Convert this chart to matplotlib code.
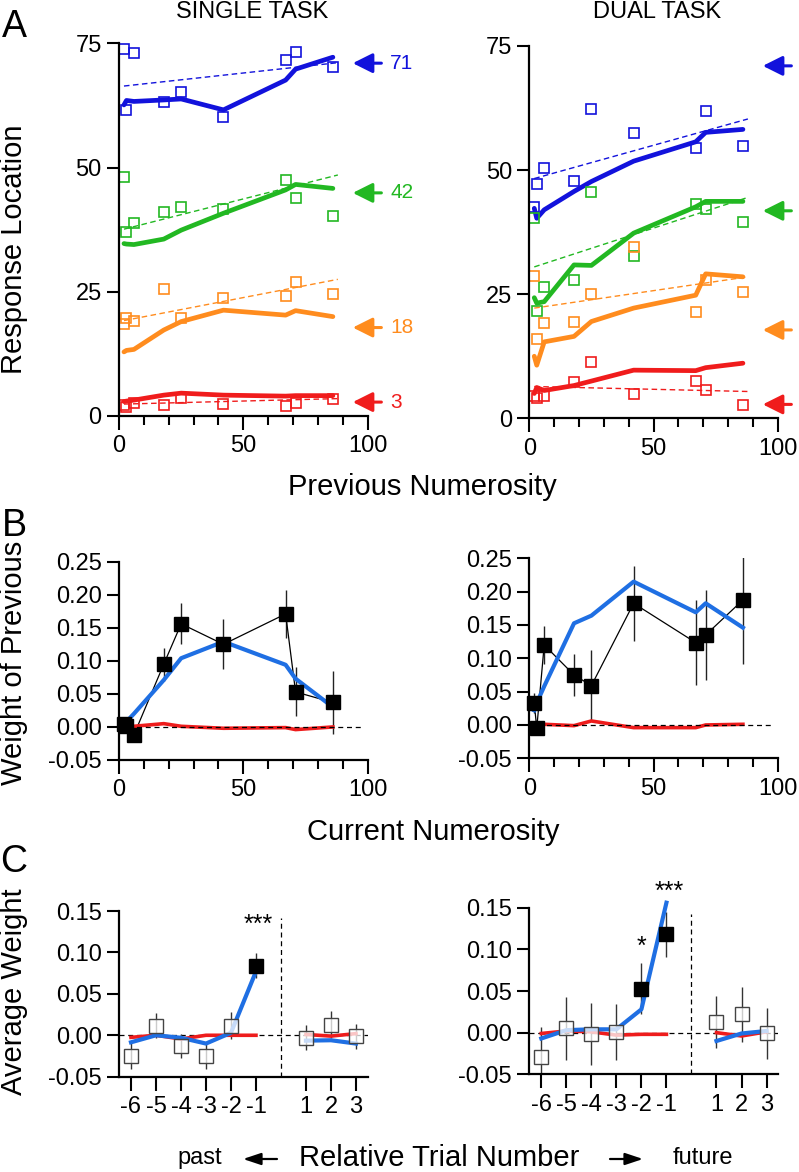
import numpy as np
import matplotlib.pyplot as plt
from matplotlib.ticker import MultipleLocator, FormatStrFormatter

plt.rcParams['font.family'] = ['Liberation Sans', 'DejaVu Sans']
plt.rcParams['axes.unicode_minus'] = False

# ---------------- data ----------------
# A: response location vs previous numerosity
numerosity = [2, 3, 6, 18, 25, 42, 67, 71, 86]
target_labels = ['71', '42', '18', '3']
single_arrow_y = [71, 44.9, 17.8, 2.8]
dual_arrow_y = [71, 41.8, 17.8, 2.8]
fit_x = [2, 88]

single_blue = [73.8, 61.6, 73.0, 63.2, 65.1, 60.2, 71.6, 73.2, 70.3]
single_blue_model = [62.6, 63.5, 63.3, 63.6, 63.8, 61.6, 67.6, 69.8, 72.2]
single_blue_fit = [66.4, 71.1]
single_green = [48.0, 37.0, 38.8, 41.1, 42.0, 41.6, 47.4, 43.8, 40.3]
single_green_model = [34.7, 34.6, 34.5, 35.6, 37.4, 40.8, 45.5, 46.6, 45.8]
single_green_fit = [37.6, 48.5]
single_orange = [18.6, 19.7, 19.2, 25.6, 19.8, 23.8, 24.2, 26.9, 24.5]
single_orange_model = [12.9, 13.2, 13.4, 17.3, 19.0, 21.3, 20.3, 21.2, 20.0]
single_orange_fit = [19.2, 27.5]
single_red = [2.2, 1.9, 2.7, 2.2, 3.7, 2.4, 2.0, 2.7, 3.4]
single_red_model = [2.9, 3.0, 3.2, 4.2, 4.6, 4.2, 4.0, 4.1, 4.1]
single_red_fit = [2.4, 3.5]

dual_blue = [42.6, 47.3, 50.4, 47.8, 62.3, 57.4, 54.5, 61.9, 54.9]
dual_blue_model = [42.3, 40.3, 42.0, 45.7, 47.7, 51.8, 55.7, 57.6, 58.2]
dual_blue_fit = [48.3, 60.3]
dual_green = [40.3, 21.6, 26.4, 27.9, 45.5, 32.7, 43.2, 42.2, 39.5]
dual_green_model = [24.3, 23.2, 23.5, 30.9, 30.8, 37.3, 42.6, 43.7, 43.7]
dual_green_fit = [30.5, 44.5]
dual_orange = [28.7, 16.0, 19.1, 19.3, 25.0, 34.6, 21.4, 27.9, 25.4]
dual_orange_model = [12.5, 10.7, 15.4, 16.5, 19.5, 22.2, 24.8, 29.1, 28.5]
dual_orange_fit = [22.2, 28.5]
dual_red = [4.4, 4.0, 4.4, 7.4, 11.3, 4.9, 7.6, 5.7, 2.7]
dual_red_model = [5.0, 6.2, 5.6, 6.6, 7.5, 9.7, 9.6, 10.2, 11.1]
dual_red_fit = [6.4, 5.4]

# B: weight of previous vs current numerosity
single_w = [0.004, 0.002, -0.012, 0.095, 0.156, 0.125, 0.171, 0.053, 0.037]
single_w_err = [0.008, 0.008, 0.010, 0.025, 0.031, 0.038, 0.036, 0.037, 0.048]
single_w_model = [0.002, 0.008, 0.020, 0.071, 0.104, 0.129, 0.094, 0.073, 0.030]
single_w_ctrl = [0.0, 0.0, 0.001, 0.005, 0.001, -0.002, -0.001, -0.004, 0.0]
dual_w = [0.0325, -0.005, 0.120, 0.075, 0.059, 0.1825, 0.1235, 0.135, 0.1875]
dual_w_err = [0.015, 0.006, 0.0285, 0.032, 0.053, 0.0565, 0.064, 0.0675, 0.0965]
dual_w_model = [0.022, 0.033, 0.058, 0.1525, 0.164, 0.215, 0.169, 0.1825, 0.146]
dual_w_ctrl = [0.0, 0.002, 0.001, -0.001, 0.006, -0.004, -0.004, 0.0, 0.001]

# C: average weight vs relative trial number
lags = ['-6', '-5', '-4', '-3', '-2', '-1', '1', '2', '3']
lag_pos = [0, 1, 2, 3, 4, 5, 7, 8, 9]
single_avg = [-0.025, 0.0116, -0.013, -0.0245, 0.0116, 0.084, -0.003, 0.013, -0.001]
single_avg_err = [0.016, 0.015, 0.015, 0.016, 0.016, 0.015, 0.015, 0.016, 0.015]
single_avg_model = [-0.0085, 0.0, -0.003, -0.010, 0.003, 0.077, -0.0065, -0.006, -0.010]
single_avg_ctrl = [-0.0025, 0.0, -0.0045, 0.0, 0.0, 0.0, 0.001, -0.001, 0.002]
single_stars = ['', '', '', '', '', '***', '', '', '']
dual_avg = [-0.0296, 0.005, -0.002, 0.0004, 0.053, 0.118, 0.0124, 0.022, -0.001]
dual_avg_err = [0.036, 0.038, 0.037, 0.0335, 0.031, 0.027, 0.031, 0.033, 0.031]
dual_avg_model = [-0.007, 0.003, 0.004, 0.004, 0.028, 0.156, -0.010, -0.001, 0.002]
dual_avg_ctrl = [-0.001, 0.002, 0.001, -0.003, -0.002, -0.002, 0.0, -0.004, 0.001]
dual_stars = ['', '', '', '', '*', '***', '', '', '']

cols_a = ['#1212dc', '#22b822', '#ff8c1e', '#f01c1c']
blue_b = '#1f6fe3'
red_b = '#ee1c1c'

W, H = 799, 1172
fig = plt.figure(figsize=(W / 100, H / 100), dpi=100)


def fx(px):
    return px / W


def fy(py):
    return 1 - py / H


def axes_px(x0, x1, ytop, ybot):
    return fig.add_axes([fx(x0), fy(ybot), (x1 - x0) / W, (ybot - ytop) / H])


def style(ax):
    for s in ['top', 'right']:
        ax.spines[s].set_visible(False)
    for s in ['left', 'bottom']:
        ax.spines[s].set_linewidth(1.6)
    ax.tick_params(which='both', direction='out', width=1.5, labelsize=17,
                   colors='black', pad=4)
    ax.tick_params(axis='x', which='major', length=10)
    ax.tick_params(axis='x', which='minor', length=6.5)
    ax.tick_params(axis='y', which='major', length=8.5)


# ---------------- panel A ----------------
def panel_a(ax, squares, models, fits, arrow_y, labels):
    for c, sq, mo, ft in zip(cols_a, squares, models, fits):
        ax.plot(fit_x, ft, color=c, lw=1.0, dashes=(4, 2.5))
        ax.plot(numerosity, mo, color=c, lw=3.4, solid_capstyle='round')
        ax.plot(numerosity, sq, ls='none', marker='s', ms=7, mfc='none',
                mec=c, mew=1.2, clip_on=False)
    for i, (c, y) in enumerate(zip(cols_a, arrow_y)):
        ax.annotate('', xy=(94, y), xytext=(105.5, y), annotation_clip=False,
                    arrowprops=dict(arrowstyle='-|>,head_length=0.6,head_width=0.3',
                                    color=c, lw=2.2, shrinkA=0, shrinkB=0,
                                    mutation_scale=20))
        if labels:
            ax.text(109, y, labels[i], color=c, fontsize=15, ha='left',
                    va='center', clip_on=False)
    ax.set_xlim(0, 100)
    ax.set_ylim(0, 75)
    ax.xaxis.set_major_locator(MultipleLocator(50))
    ax.xaxis.set_minor_locator(MultipleLocator(10))
    ax.yaxis.set_major_locator(MultipleLocator(25))
    style(ax)


ax1 = axes_px(119, 367.7, 43.3, 416)
panel_a(ax1, [single_blue, single_green, single_orange, single_red],
        [single_blue_model, single_green_model, single_orange_model, single_red_model],
        [single_blue_fit, single_green_fit, single_orange_fit, single_red_fit],
        single_arrow_y, target_labels)
ax2 = axes_px(529.3, 777.7, 46, 418.3)
panel_a(ax2, [dual_blue, dual_green, dual_orange, dual_red],
        [dual_blue_model, dual_green_model, dual_orange_model, dual_red_model],
        [dual_blue_fit, dual_green_fit, dual_orange_fit, dual_red_fit],
        dual_arrow_y, None)


# ---------------- panel B ----------------
def panel_b(ax, w, err, model, ctrl):
    ax.plot([0, 97.5], [0, 0], color='black', lw=0.9, dashes=(4, 3), zorder=4)
    ax.plot(numerosity, ctrl, color=red_b, lw=2.6, zorder=3)
    ax.errorbar(numerosity, w, yerr=err, fmt='none', ecolor='#222222',
                elinewidth=1.0, capsize=0, zorder=2)
    ax.plot(numerosity, w, color='black', lw=0.9, zorder=2)
    ax.plot(numerosity, model, color=blue_b, lw=3.0, zorder=3)
    ax.plot(numerosity, w, ls='none', marker='s', ms=9.5, color='black',
            zorder=5, clip_on=False)
    ax.set_xlim(0, 100)
    ax.set_ylim(-0.05, 0.25)
    ax.xaxis.set_major_locator(MultipleLocator(50))
    ax.xaxis.set_minor_locator(MultipleLocator(10))
    ax.yaxis.set_major_locator(MultipleLocator(0.05))
    ax.yaxis.set_major_formatter(FormatStrFormatter('%.2f'))
    style(ax)


ax3 = axes_px(119, 367.7, 561.7, 760)
panel_b(ax3, single_w, single_w_err, single_w_model, single_w_ctrl)
ax4 = axes_px(529.3, 777.7, 558.3, 758.3)
panel_b(ax4, dual_w, dual_w_err, dual_w_model, dual_w_ctrl)


# ---------------- panel C ----------------
def panel_c(ax, avg, err, model, ctrl, stars, star_y):
    ax.plot([-0.5, 9.5], [0, 0], color='black', lw=0.9, dashes=(4, 3), zorder=1)
    ax.plot([6, 6], [-0.05, 0.142], color='black', lw=0.9, dashes=(4, 3), zorder=1)
    past = slice(0, 6)
    fut = slice(6, 9)
    ax.errorbar(lag_pos, avg, yerr=err, fmt='none', ecolor='#333333',
                elinewidth=1.0, capsize=0, zorder=2)
    for seg in (past, fut):
        ax.plot(lag_pos[seg], ctrl[seg], color=red_b, lw=2.6, zorder=3)
        ax.plot(lag_pos[seg], model[seg], color=blue_b, lw=3.0, zorder=3,
                clip_on=False)
    for p, v, s in zip(lag_pos, avg, stars):
        if s:
            ax.plot(p, v, marker='s', ms=10, color='black', zorder=5)
        else:
            ax.plot(p, v, marker='s', ms=10, mfc=(1, 1, 1, 0.75), mec='#444444',
                    mew=1.0, zorder=5)
    for p, s, y in zip(lag_pos, stars, star_y):
        if s:
            ax.text(p + (0.1 if len(s) == 3 else 0.0), y, s, fontsize=18,
                    ha='center', va='center', clip_on=False)
    ax.set_xlim(-0.48, 9.47)
    ax.set_ylim(-0.05, 0.15)
    ax.set_xticks(lag_pos)
    ax.set_xticklabels(lags)
    ax.yaxis.set_major_locator(MultipleLocator(0.05))
    ax.yaxis.set_major_formatter(FormatStrFormatter('%.2f'))
    style(ax)


single_star_y = [0, 0, 0, 0, 0, 0.133, 0, 0, 0]
dual_star_y = [0, 0, 0, 0, 0.103, 0.169, 0, 0, 0]
ax5 = axes_px(119, 367.7, 911, 1076.7)
panel_c(ax5, single_avg, single_avg_err, single_avg_model, single_avg_ctrl,
        single_stars, single_star_y)
ax6 = axes_px(529.3, 778.3, 907.7, 1074.3)
panel_c(ax6, dual_avg, dual_avg_err, dual_avg_model, dual_avg_ctrl,
        dual_stars, dual_star_y)

# ---------------- figure texts ----------------
fig.text(fx(252.5), fy(12), 'SINGLE TASK', fontsize=17, ha='center', va='center')
fig.text(fx(656.7), fy(12), 'DUAL TASK', fontsize=17, ha='center', va='center')
for letter, y in [('A', 27), ('B', 526), ('C', 862)]:
    fig.text(fx(14), fy(y), letter, fontsize=27, ha='center', va='center')
for lab, y in [('Response Location', 249), ('Weight of Previous', 663),
               ('Average Weight', 992)]:
    fig.text(fx(14), fy(y), lab, fontsize=21, rotation=90, ha='center', va='center')
fig.text(fx(422), fy(487), 'Previous Numerosity', fontsize=21, ha='center', va='center')
fig.text(fx(433.5), fy(832), 'Current Numerosity', fontsize=21, ha='center', va='center')
fig.text(fx(439.5), fy(1158), 'Relative Trial Number', fontsize=21, ha='center', va='center')
fig.text(fx(200), fy(1158), 'past', fontsize=17, ha='center', va='center')
fig.text(fx(702.5), fy(1158), 'future', fontsize=17, ha='center', va='center')
for x0, x1 in [(277, 243), (610, 643)]:
    fig.add_artist(plt.Annotation('', xy=(fx(x1), fy(1159)), xytext=(fx(x0), fy(1159)),
                                  xycoords='figure fraction',
                                  arrowprops=dict(arrowstyle='-|>,head_length=0.6,head_width=0.2',
                                                  color='black', lw=1.6, shrinkA=0,
                                                  shrinkB=0, mutation_scale=18)))

fig.savefig('out.png', dpi=100)
